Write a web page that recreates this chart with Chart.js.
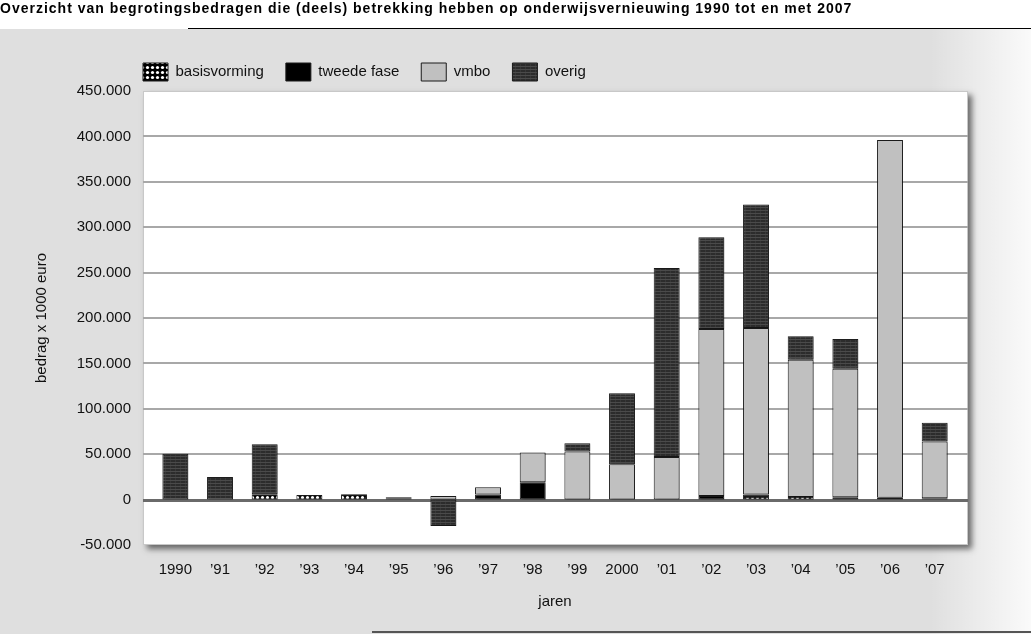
<!DOCTYPE html>
<html><head><meta charset="utf-8">
<script src="https://cdn.jsdelivr.net/npm/chart.js@4.4.1/dist/chart.umd.min.js"></script>
<style>html,body{margin:0;padding:0;background:#fff;overflow:hidden}canvas{display:block}</style>
</head><body>
<canvas id="c" width="1031" height="634"></canvas>
<script>
// ---- data (bedrag x 1000 euro) ----
const years = ['1990','\u201991','\u201992','\u201993','\u201994','\u201995','\u201996','\u201997','\u201998','\u201999','2000','\u201901','\u201902','\u201903','\u201904','\u201905','\u201906','\u201907'];
const basisvorming = [null,null,6000,5000,6000,1000,null,null,null,null,null,null,null,3000,3000,null,null,null];
const tweedeFase   = [null,null,null,null,null,null,null,5500,19000,null,null,null,4000,2500,null,2500,2000,1500];
const vmbo         = [null,null,null,null,null,null,4000,8000,33000,53000,39000,47000,184000,183500,151000,141500,394000,62500];
const overig       = [50500,25000,55000,null,null,1500,-29000,null,null,9000,78000,208000,101000,136000,26000,33000,null,20500];
const yMin = -50000, yMax = 450000, yStep = 50000;
const titleText = 'Overzicht van begrotingsbedragen die (deels) betrekking hebben op onderwijsvernieuwing 1990 tot en met 2007';

// ---- fill patterns ----
function makePattern(w, h, draw) {
  const c = document.createElement('canvas'); c.width = w; c.height = h;
  const x = c.getContext('2d'); draw(x, w, h);
  return x.createPattern(c, 'repeat');
}
const patBasis = makePattern(5, 5, (x) => {
  x.fillStyle = '#000'; x.fillRect(0, 0, 5, 5);
  x.fillStyle = '#fff'; x.beginPath(); x.arc(2.5, 2.5, 1.6, 0, Math.PI * 2); x.fill();
});
const patOverig = makePattern(5, 3, (x) => {
  x.fillStyle = '#2c2c2c'; x.fillRect(0, 0, 5, 3);
  x.fillStyle = '#4a4a4a'; x.fillRect(0, 0, 5, 1);
  x.fillStyle = '#383838'; x.fillRect(0, 1, 1, 2);
});

const fmt = v => (v < 0 ? '-' : '') + String(Math.abs(v)).replace(/\B(?=(\d{3})+(?!\d))/g, '.');

Chart.defaults.font.family = "'Liberation Sans', Arial, Helvetica, sans-serif";
Chart.defaults.color = '#111';

const bgPlugin = {
  id: 'bg',
  afterLayout(chart) {
    // place legend row so first box aligns with plot panel
    chart.legend.left = 121;
    const tb = chart.titleBlock;
    if (tb && !tb._spaced) {
      const orig = tb.draw.bind(tb);
      tb.draw = function (area) {
        const c = chart.ctx; const prev = c.letterSpacing;
        c.letterSpacing = '1px'; orig(area); c.letterSpacing = prev || '0px';
      };
      tb._spaced = true;
    }
  },
  beforeDraw(chart) {
    const {ctx, chartArea: a, scales: {y}} = chart;
    const W = chart.width, H = chart.height;
    ctx.save();
    ctx.fillStyle = '#fff'; ctx.fillRect(0, 0, W, H);
    ctx.fillStyle = '#dfdfdf'; ctx.fillRect(0, 29, W, H - 29);
    const g = ctx.createLinearGradient(930, 0, W, 0);
    g.addColorStop(0, 'rgba(255,255,255,0)'); g.addColorStop(1, 'rgba(255,255,255,0.85)');
    ctx.fillStyle = g; ctx.fillRect(930, 29, W - 930, H - 29);
    ctx.fillStyle = '#000'; ctx.fillRect(188, 28, W - 188, 1);
    ctx.fillStyle = '#555'; ctx.fillRect(372, 631, W - 372, 2);
    // plot panel with shadow
    const px = a.left - 10, pw = a.right - a.left + 21, py = a.top, ph = a.bottom - a.top;
    ctx.shadowColor = 'rgba(0,0,0,0.55)'; ctx.shadowBlur = 6; ctx.shadowOffsetX = 4; ctx.shadowOffsetY = 4;
    ctx.fillStyle = '#fff'; ctx.fillRect(px, py, pw, ph);
    ctx.shadowColor = 'transparent';
    ctx.strokeStyle = '#c8c8c8'; ctx.lineWidth = 1; ctx.strokeRect(px + 0.5, py + 0.5, pw - 1, ph - 1);
    // grid lines
    y.ticks.forEach(t => {
      if (t.value === yMin || t.value === yMax) return;
      const yy = Math.round(y.getPixelForValue(t.value));
      if (t.value === 0) { ctx.fillStyle = '#6a6a6a'; ctx.fillRect(px, yy - 1, pw, 3); }
      else { ctx.fillStyle = '#a8a8a8'; ctx.fillRect(px, yy - 1, pw, 2); }
    });
    ctx.restore();
  },
  beforeDatasetsDraw(chart) {
    const c = chart.ctx; c.save();
    c.shadowColor = 'rgba(0,0,0,0.3)'; c.shadowBlur = 2; c.shadowOffsetX = 2; c.shadowOffsetY = 1;
  },
  afterDatasetsDraw(chart) { chart.ctx.restore(); }
};

new Chart(document.getElementById('c'), {
  type: 'bar',
  data: {
    labels: years,
    datasets: [
      {label: 'basisvorming', data: basisvorming, backgroundColor: patBasis},
      {label: 'tweede fase', data: tweedeFase, backgroundColor: '#000'},
      {label: 'vmbo', data: vmbo, backgroundColor: '#c0c0c0'},
      {label: 'overig', data: overig, backgroundColor: patOverig}
    ]
  },
  options: {
    responsive: false,
    animation: false,
    devicePixelRatio: 1,
    layout: {padding: {left: 0, right: 74, top: 0, bottom: 0}},
    datasets: {bar: {barPercentage: 0.58, categoryPercentage: 1, borderWidth: 1, borderColor: '#1a1a1a', borderSkipped: false}},
    plugins: {
      title: {display: true, text: titleText, align: 'start', color: '#000',
        font: {size: 14, weight: 'bold'}, padding: {top: 1, bottom: 23.2}},
      legend: {position: 'top', align: 'start', maxHeight: 60,
        labels: {boxWidth: 25, boxHeight: 18, padding: 22, color: '#111', font: {size: 15}}},
      tooltip: {enabled: false}
    },
    scales: {
      x: {stacked: true, grid: {display: false, drawTicks: false}, border: {display: false},
        ticks: {font: {size: 15}, padding: 16, color: '#111'},
        title: {display: true, text: 'jaren', font: {size: 15}, color: '#111', padding: {top: 0, bottom: 23}},
        afterFit(s) { s.height = 89; }},
      y: {stacked: true, min: yMin, max: yMax, grid: {display: false, drawTicks: false}, border: {display: false},
        ticks: {stepSize: yStep, font: {size: 15}, padding: 22, color: '#111', callback: v => fmt(v)},
        title: {display: true, text: 'bedrag x 1000 euro', font: {size: 15}, color: '#111', padding: {top: 33, bottom: 0}},
        afterFit(s) { s.width = 153; }}
    }
  },
  plugins: [bgPlugin]
});
</script>
</body></html>
